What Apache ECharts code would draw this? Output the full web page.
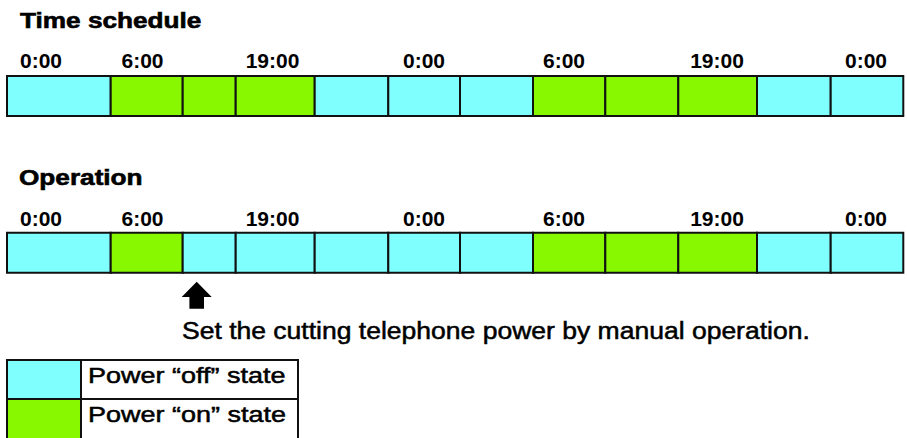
<!DOCTYPE html>
<html>
<head>
<meta charset="utf-8">
<script src="https://cdn.jsdelivr.net/npm/echarts@6/dist/echarts.min.js"></script>
<style>html,body{margin:0;padding:0;background:#fff}#c{width:907px;height:438px}</style>
</head>
<body>
<div id="c"></div>
<script>
// ---- data (schematic x units along the timeline) ----
const cellEdges = [0, 103.7, 175.7, 228.7, 307.7, 381.3, 453, 526, 598.3, 671.3, 750, 823.7, 896.3];
const scheduleStates  = [0, 1, 1, 1, 0, 0, 0, 1, 1, 1, 0, 0];   // 0 = off, 1 = on
const operationStates = [0, 1, 0, 0, 0, 0, 0, 1, 1, 1, 0, 0];
const tickLabels    = ['0:00', '6:00', '19:00', '0:00', '6:00', '19:00', '0:00'];
const tickPositions = [34, 135.5, 265.5, 417, 557, 710, 859];
const rowTitles = ['Time schedule', 'Operation'];
const stateNames = ['Power \u201coff\u201d state', 'Power \u201con\u201d state'];
const noteText = 'Set the cutting telephone power by manual operation.';
const arrowAt = 189.7;

const COLORS = ['#80FFFF', '#88F800'];
const STROKE = '#111';

function cells(states) {
  return states.map((s, i) => [cellEdges[i], cellEdges[i + 1], s]);
}

function renderCell(params, api) {
  const a = api.coord([api.value(0), 1]);
  const b = api.coord([api.value(1), 0]);
  return {
    type: 'rect',
    shape: { x: a[0], y: a[1], width: b[0] - a[0], height: b[1] - a[1] },
    style: { fill: COLORS[api.value(2)], stroke: STROKE, lineWidth: 2 }
  };
}

const xMax = cellEdges[cellEdges.length - 1];
function xAxisFor(idx, margin) {
  return {
    type: 'value', gridIndex: idx, min: 0, max: xMax, position: 'top',
    axisLine: { show: false }, axisTick: { show: false }, splitLine: { show: false },
    axisLabel: {
      customValues: tickPositions,
      formatter: (v) => { const k = tickPositions.indexOf(v); return k >= 0 ? tickLabels[k] : ''; },
      fontFamily: 'Liberation Sans', fontWeight: 'bold', fontSize: 21, color: '#000',
      margin: margin, showMinLabel: true, showMaxLabel: true, hideOverlap: false
    }
  };
}

const chart = echarts.init(document.getElementById('c'), null, { renderer: 'svg' });

const textStyle = (extra) => Object.assign({ fill: '#000', fontFamily: 'Liberation Sans', align: 'left', verticalAlign: 'middle' }, extra);

const graphics = [
  { type: 'text', x: 20, y: 20, scaleX: 1.19, style: textStyle({ text: rowTitles[0], fontSize: 22, fontWeight: 'bold', stroke: '#000', lineWidth: 0.6 }) },
  { type: 'text', x: 19, y: 177, scaleX: 1.19, style: textStyle({ text: rowTitles[1], fontSize: 22, fontWeight: 'bold', stroke: '#000', lineWidth: 0.6 }) },
  { type: 'text', x: 182, y: 331, scaleX: 1.153, style: textStyle({ text: noteText, fontSize: 23, stroke: '#000', lineWidth: 0.5 }) },
  // legend table
  { type: 'rect', shape: { x: 7, y: 360, width: 74, height: 39 }, style: { fill: COLORS[0], stroke: STROKE, lineWidth: 2 } },
  { type: 'rect', shape: { x: 81, y: 360, width: 217, height: 39 }, style: { fill: '#fff', stroke: STROKE, lineWidth: 2 } },
  { type: 'rect', shape: { x: 7, y: 399, width: 74, height: 40 }, style: { fill: COLORS[1], stroke: STROKE, lineWidth: 2 } },
  { type: 'rect', shape: { x: 81, y: 399, width: 217, height: 40 }, style: { fill: '#fff', stroke: STROKE, lineWidth: 2 } },
  { type: 'text', x: 88, y: 375.5, scaleX: 1.227, style: textStyle({ text: stateNames[0], fontSize: 22, stroke: '#000', lineWidth: 0.5 }) },
  { type: 'text', x: 88, y: 414.5, scaleX: 1.227, style: textStyle({ text: stateNames[1], fontSize: 22, stroke: '#000', lineWidth: 0.5 }) }
];

chart.setOption({
  animation: false,
  backgroundColor: '#fff',
  grid: [
    { left: 7, right: 3.7, top: 76, height: 40, outerBoundsMode: 'none', containLabel: false },
    { left: 7, right: 3.7, top: 232.7, height: 40, outerBoundsMode: 'none', containLabel: false }
  ],
  xAxis: [xAxisFor(0, 5), xAxisFor(1, 4)],
  yAxis: [
    { type: 'value', gridIndex: 0, min: 0, max: 1, show: false },
    { type: 'value', gridIndex: 1, min: 0, max: 1, show: false }
  ],
  series: [
    { type: 'custom', name: rowTitles[0], xAxisIndex: 0, yAxisIndex: 0, data: cells(scheduleStates), renderItem: renderCell, encode: { x: [0, 1] }, clip: false },
    { type: 'custom', name: rowTitles[1], xAxisIndex: 1, yAxisIndex: 1, data: cells(operationStates), renderItem: renderCell, encode: { x: [0, 1] }, clip: false }
  ],
  graphic: graphics
});

// arrow anchored to the timeline position on the operation row
const ax = chart.convertToPixel({ xAxisIndex: 1 }, arrowAt);
const rowBottom = chart.convertToPixel({ yAxisIndex: 1 }, 0);
const t = rowBottom + 9, hb = rowBottom + 24.3, bt = rowBottom + 36;
graphics.push({
  type: 'polygon',
  shape: { points: [[ax, t], [ax + 15, hb], [ax + 7.3, hb], [ax + 7.3, bt], [ax - 7.3, bt], [ax - 7.3, hb], [ax - 15, hb]] },
  style: { fill: '#000' }
});
chart.setOption({ graphic: graphics });
</script>
</body>
</html>
